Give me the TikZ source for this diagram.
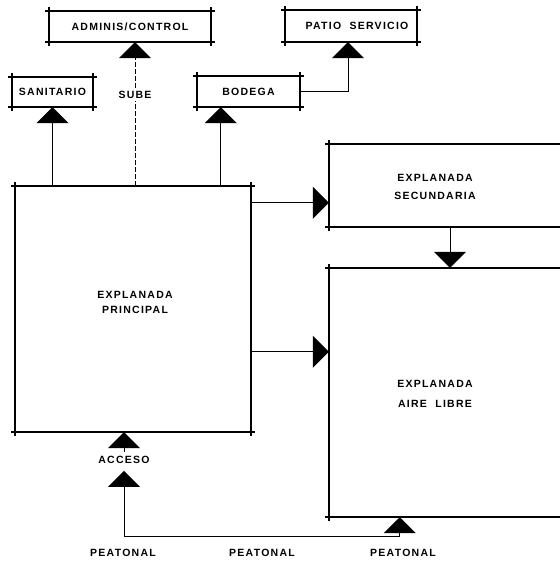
\documentclass[tikz,border=0pt]{standalone}
\usepackage{fontspec}
\setmainfont{Liberation Sans}[LetterSpace=12]
\usetikzlibrary{arrows.meta}
\newcommand\tickedges[1]{%
  \draw[edge] (#1.north west) -- (#1.north east);
  \draw[edge] (#1.north east) -- (#1.south east);
  \draw[edge] (#1.south east) -- (#1.south west);
  \draw[edge] (#1.south west) -- (#1.north west);}
\newcommand\openedges[1]{%
  \draw[edge] (#1.north east) -- (#1.north west);
  \draw[edge] (#1.north west) -- (#1.south west);
  \draw[edge] (#1.south west) -- (#1.south east);}
\begin{document}
\begin{tikzpicture}[x=1pt,y=-1pt,
  every node/.style={font=\fontsize{10.5}{12}\selectfont\bfseries, inner sep=0pt},
  tbox/.style={draw=none, inner sep=0pt},
  lbl/.style={align=center},
  edge/.style={line width=2pt, shorten <=-3.5pt, shorten >=-3.5pt},
  conn/.style={line width=1pt},
  tip/.style={-{Triangle[width=32pt,length=16pt]}},
  dtip/.style={{Triangle[width=32pt,length=16pt]}-{Triangle[width=32pt,length=16pt]}},
]
\useasboundingbox (0,0) rectangle (560,563);
% small boxes
\node[tbox, minimum width=162pt, minimum height=31pt] (admin) at (130,26.5) {ADMINIS/CONTROL};
\node[tbox, minimum width=81pt, minimum height=30pt] (sanit) at (52.5,92) {SANITARIO};
\node[tbox, minimum width=103pt, minimum height=31pt] (bodega) at (248.5,91.5) {BODEGA};
\node[tbox, minimum width=132pt, minimum height=32pt] (patio) at (351,26) {\hspace*{12pt}PATIO\ \ SERVICIO};
% big boxes
\node[tbox, minimum width=236pt, minimum height=246pt] (main) at (133,309) {};
\node[tbox, minimum width=240pt, minimum height=83pt] (sec) at (449,185.5) {};
\node[tbox, minimum width=240pt, minimum height=249pt] (aire) at (449,392.5) {};
\node[lbl] (mainlbl) at (135,302) {EXPLANADA\\[3pt]PRINCIPAL};
\node[lbl] (seclbl) at (435,187) {EXPLANADA\\[6pt]SECUNDARIA};
\node[lbl] (airelbl) at (435,394) {EXPLANADA\\[8pt]AIRE\ \ LIBRE};
\tickedges{admin}
\tickedges{sanit}
\tickedges{bodega}
\tickedges{patio}
\tickedges{main}
\openedges{sec}
\openedges{aire}
% connectors to upper boxes
\draw[conn,tip] (main.north -| sanit.south) -- (sanit.south);
\coordinate (bo) at ([xshift=24pt]bodega.south west);
\draw[conn,tip] (main.north -| bo) -- (bo);
\coordinate (su) at ([xshift=5pt]admin.south);
\draw[conn,tip,dash pattern=on 5pt off 2pt] (main.north -| su) -- (su);
\node[fill=white, inner sep=2pt] (sube) at ([yshift=-53pt]su) {SUBE};
\draw[conn,tip] (bodega.east) -| ([xshift=-3pt]patio.south);
% main to right boxes
\coordinate (r1) at ([yshift=-17pt]main.north east);
\coordinate (r2) at ([yshift=-166pt]main.north east);
\draw[conn,tip] (r1) -- (r1 -| sec.west);
\draw[conn,tip] (r2) -- (r2 -| aire.west);
\draw[conn,tip] ([xshift=1pt]sec.south) -- ([xshift=1pt]aire.north);
% access
\node (acc) at (124,460) {ACCESO};
\draw[conn,tip] ([yshift=4pt]acc.north) -- (acc.north |- main.south);
\coordinate (acctip) at ([yshift=-7pt]acc.south);
\coordinate (turn) at ([yshift=-73pt]acc.south);
\coordinate (ai) at ([xshift=71pt]aire.south west);
\draw[conn,dtip] (acctip) -- (turn) -| (ai);
\node (p1) at (123,553) {PEATONAL};
\node (p2) at (262,553) {PEATONAL};
\node (p3) at (403,553) {PEATONAL};
\end{tikzpicture}
\end{document}
